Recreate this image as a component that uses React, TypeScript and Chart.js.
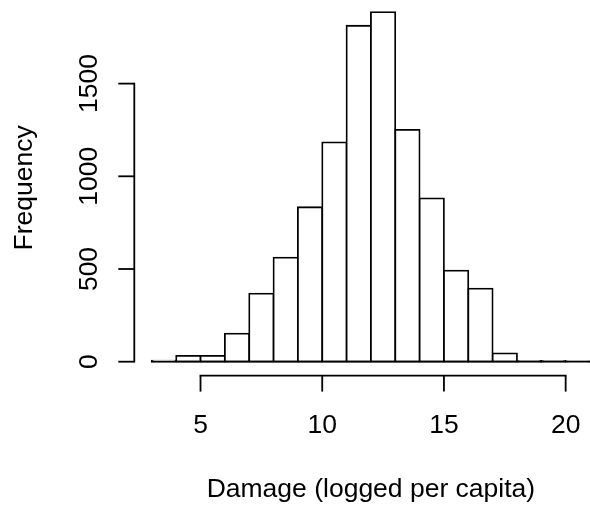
import React, { useEffect, useRef } from "react";
import { Chart, registerables } from "chart.js";

Chart.register(...registerables);

// Histogram data (bin breaks and counts)
const breaks = [3, 4, 5, 6, 7, 8, 9, 10, 11, 12, 13, 14, 15, 16, 17, 18, 19, 20, 21];
const counts = [5, 31, 31, 151, 367, 561, 833, 1183, 1812, 1886, 1250, 881, 491, 394, 45, 4, 4, 1];
const xTicks = [5, 10, 15, 20];
const yTicks = [0, 500, 1000, 1500];
const xTitle = "Damage (logged per capita)";
const yTitle = "Frequency";
const xRange = [2.28, 21];
const yRange = [-75, 1951];

const FONT = '26.5px "Liberation Sans", Arial, Helvetica, sans-serif';
const LW = 1.8;
const TICK = 16;

const rAxes = {
  id: "rAxes",
  afterDatasetsDraw(chart: any) {
    const { ctx, chartArea, scales } = chart;
    const x = scales.x;
    const y = scales.y;
    ctx.save();
    ctx.strokeStyle = "#000";
    ctx.fillStyle = "#000";
    ctx.lineWidth = LW;
    ctx.lineCap = "butt";
    const seg = (x1: number, y1: number, x2: number, y2: number) => {
      ctx.beginPath();
      ctx.moveTo(x1, y1);
      ctx.lineTo(x2, y2);
      ctx.stroke();
    };
    // baseline of histogram bars
    const y0 = y.getPixelForValue(0);
    seg(
      x.getPixelForValue(breaks[0]) - LW / 2,
      y0,
      x.getPixelForValue(breaks[breaks.length - 1]) + LW / 2,
      y0
    );

    // x axis
    const ay = chartArea.bottom;
    const xa = x.getPixelForValue(xTicks[0]);
    const xb = x.getPixelForValue(xTicks[xTicks.length - 1]);
    seg(xa - LW / 2, ay, xb + LW / 2, ay);
    ctx.font = FONT;
    ctx.textAlign = "center";
    ctx.textBaseline = "alphabetic";
    xTicks.forEach((v) => {
      const px = x.getPixelForValue(v);
      seg(px, ay, px, ay + TICK);
      ctx.fillText(String(v), px, ay + 57.7);
    });
    ctx.fillText(
      xTitle,
      x.getPixelForValue((breaks[0] + breaks[breaks.length - 1]) / 2),
      ay + 121.5
    );

    // y axis
    const ax = chartArea.left;
    const ya = y.getPixelForValue(yTicks[0]);
    const yb = y.getPixelForValue(yTicks[yTicks.length - 1]);
    seg(ax, ya + LW / 2, ax, yb - LW / 2);
    yTicks.forEach((v) => {
      const py = y.getPixelForValue(v);
      seg(ax, py, ax - TICK, py);
      ctx.save();
      ctx.translate(ax - 37.6, py);
      ctx.rotate(-Math.PI / 2);
      ctx.fillText(String(v), 0, 0);
      ctx.restore();
    });
    ctx.save();
    ctx.translate(ax - 102.5, (chartArea.top + chartArea.bottom) / 2);
    ctx.rotate(-Math.PI / 2);
    ctx.fillText(yTitle, 0, 0);
    ctx.restore();
    ctx.restore();
  },
};

export default function App() {
  const ref = useRef<HTMLCanvasElement | null>(null);
  useEffect(() => {
    if (!ref.current) return;
    const data = counts.map((c, i) => ({ x: (breaks[i] + breaks[i + 1]) / 2, y: c }));
    const chart = new Chart(ref.current, {
      type: "bar",
      data: {
        datasets: [
          {
            data: data as any,
            backgroundColor: "#ffffff",
            borderColor: "#000000",
            borderWidth: LW,
            borderSkipped: false,
            inflateAmount: LW / 2,
            barPercentage: 1,
            categoryPercentage: 1,
          } as any,
        ],
      },
      options: {
        animation: false,
        responsive: false,
        devicePixelRatio: 1,
        layout: { padding: { left: 134.3, right: 0, top: 0, bottom: 134.4 } },
        plugins: { legend: { display: false }, tooltip: { enabled: false } },
        scales: {
          x: { type: "linear", offset: false, min: xRange[0], max: xRange[1], display: false },
          y: { type: "linear", min: yRange[0], max: yRange[1], display: false },
        },
      },
      plugins: [rAxes],
    });
    return () => chart.destroy();
  }, []);
  return (
    <div style={{ position: "fixed", left: 0, top: 0, width: 590, height: 510, background: "#fff" }}>
      <canvas ref={ref} width={590} height={510} style={{ display: "block" }} />
    </div>
  );
}
